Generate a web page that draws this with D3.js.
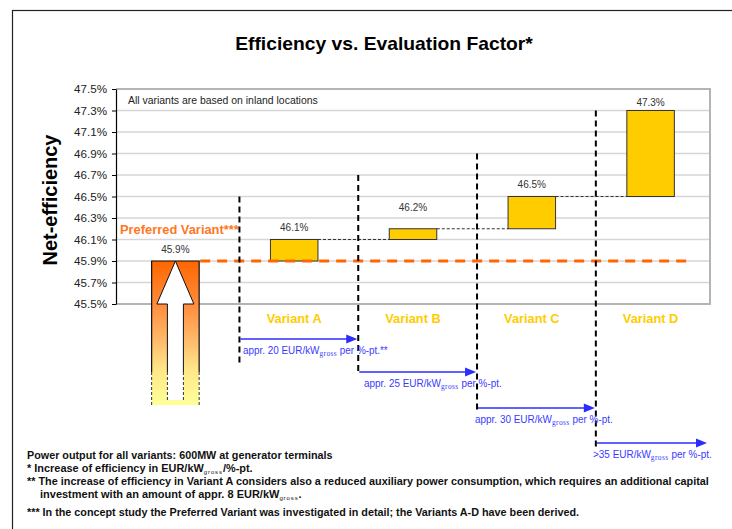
<!DOCTYPE html>
<html><head><meta charset="utf-8">
<script src="https://cdn.jsdelivr.net/npm/d3@7"></script>
<style>body{margin:0;background:#fff}svg{display:block}</style>
</head><body>
<svg id="c" width="732" height="529"></svg>
<script>
// ---------- data ----------
const categories = ["Preferred Variant", "Variant A", "Variant B", "Variant C", "Variant D"];
const startValues = [null, 45.9, 46.1, 46.2, 46.5];
const endValues = [45.9, 46.1, 46.2, 46.5, 47.3];
const valueLabels = ["45.9%", "46.1%", "46.2%", "46.5%", "47.3%"];
const yTicks = [45.5, 45.7, 45.9, 46.1, 46.3, 46.5, 46.7, 46.9, 47.1, 47.3, 47.5];
const baselineValue = 45.9;
const dividerTopValues = [46.5, 46.7, 46.9, 47.3];
const costPrefixes = ["appr. 20", "appr. 25", "appr. 30", ">35"];
const costSuffixes = ["**", "", "", ""];
const footnoteLines = [
  ["Power output for all variants: 600MW at generator terminals"],
  ["*  Increase of efficiency in EUR/kW", "gross", "/%-pt."],
  ["** The increase of efficiency in Variant A considers also a reduced auxiliary power consumption, which requires an additional capital"],
  ["investment with an amount of appr. 8 EUR/kW", "gross", "."],
  ["*** In the concept study the Preferred Variant was investigated in detail; the Variants A-D have been derived."]
];

// ---------- layout ----------
const F = "Arial, 'Liberation Sans', sans-serif";
const plot = {l: 116, r: 710, t: 89, b: 304};
const svg = d3.select("#c");

function fitFont(sel, target) {
  const w = sel.node().getComputedTextLength();
  const fs = +sel.attr("font-size");
  sel.attr("font-size", fs * target / w);
  return fs * target / w;
}
function fitScale(sel, tx, ty, target) {
  const w = sel.node().getComputedTextLength();
  sel.attr("transform", `translate(${tx},${ty}) scale(${target / w},1)`);
}

const x = d3.scaleBand().domain(categories).range([plot.l, plot.r]).paddingInner(0.6).paddingOuter(0.3);
const y = d3.scaleLinear().domain([45.5, 47.5]).range([plot.b, plot.t]);

// outer frame
svg.append("rect").attr("x", 12.5).attr("y", 10.5).attr("width", 760).attr("height", 560)
  .attr("fill", "none").attr("stroke", "#222").attr("stroke-width", 1.2);

// title
const title = svg.append("text").attr("x", 384).attr("y", 50).attr("text-anchor", "middle")
  .attr("font-family", F).attr("font-weight", "bold").attr("font-size", 18).attr("fill", "#000")
  .text("Efficiency vs. Evaluation Factor*");
fitFont(title, 298);

// gridlines
svg.append("g").selectAll("line").data(yTicks).join("line")
  .attr("x1", plot.l).attr("x2", plot.r).attr("y1", d => y(d)).attr("y2", d => y(d))
  .attr("stroke", "#d6d6d6").attr("stroke-width", 1.5);

// plot border (gray)
svg.append("path").attr("d", `M${plot.l},${plot.t}H${plot.r}V${plot.b}H${plot.l}`)
  .attr("fill", "none").attr("stroke", "#b4b4b4").attr("stroke-width", 2);

// y axis
const yAxis = d3.axisLeft(y).tickValues(yTicks).tickSize(4).tickSizeOuter(0)
  .tickFormat(d => d3.format(".1f")(d) + "%");
const ga = svg.append("g").attr("transform", `translate(${plot.l},0)`).call(yAxis);
ga.select(".domain").attr("stroke", "#000").attr("stroke-width", 1.2);
ga.selectAll(".tick line").attr("stroke", "#000");
const tickTexts = ga.selectAll(".tick text").attr("font-family", F).attr("font-size", 11).attr("fill", "#222").attr("x", -9);
const tfs = fitFont(d3.select(tickTexts.nodes()[tickTexts.size() - 1]), 33);
tickTexts.attr("font-size", tfs);

// y axis title
const yt = svg.append("text").attr("transform", "translate(57,200) rotate(-90)").attr("text-anchor", "middle")
  .attr("font-family", F).attr("font-weight", "bold").attr("font-size", 19).attr("fill", "#000")
  .text("Net-efficiency");
fitFont(yt, 131);

// inner note
const note = svg.append("text").attr("x", 128).attr("y", 104).attr("font-family", F).attr("font-size", 10).attr("fill", "#222")
  .text("All variants are based on inland locations");
fitFont(note, 190);

// ---------- preferred variant bar with arrow ----------
const defs = svg.append("defs");
const grad = defs.append("linearGradient").attr("id", "pg").attr("x1", 0).attr("y1", 0).attr("x2", 0).attr("y2", 1);
[[0, "#ff6600"], [0.3, "#ff8c3c"], [0.58, "#ffc070"], [0.76, "#ffe888"], [1, "#ffff99"]]
  .forEach(([o, c]) => grad.append("stop").attr("offset", o).attr("stop-color", c));

const pX0 = x(categories[0]), pX1 = pX0 + x.bandwidth(), pc = pX0 + x.bandwidth() / 2;
const pTop = y(endValues[0]);
const solidEnd = 372, barBottom = 405, shaftBottom = 400;
const headBase = y(45.5), headHalf = 18.5, shaftHalf = 8;
svg.append("rect").attr("x", pX0).attr("y", pTop).attr("width", pX1 - pX0).attr("height", barBottom - pTop)
  .attr("fill", "url(#pg)");
svg.append("path").attr("d", `M${pX0},${solidEnd}V${pTop}H${pX1}V${solidEnd}`)
  .attr("fill", "none").attr("stroke", "#111").attr("stroke-width", 1.2);
svg.append("path").attr("d", `M${pX0},${solidEnd}V${barBottom}M${pX1},${solidEnd}V${barBottom}`)
  .attr("fill", "none").attr("stroke", "#333").attr("stroke-width", 1).attr("stroke-dasharray", "3,2");
svg.append("path")
  .attr("d", `M${pc - shaftHalf},${shaftBottom}V${headBase}H${pc - headHalf}L${pc},${pTop}L${pc + headHalf},${headBase}H${pc + shaftHalf}V${shaftBottom}Z`)
  .attr("fill", "#fff");
svg.append("path")
  .attr("d", `M${pc - shaftHalf},${solidEnd}V${headBase}H${pc - headHalf}L${pc},${pTop}L${pc + headHalf},${headBase}H${pc + shaftHalf}V${solidEnd}`)
  .attr("fill", "none").attr("stroke", "#111").attr("stroke-width", 1);
svg.append("path").attr("d", `M${pc - shaftHalf},${solidEnd}V${shaftBottom}M${pc + shaftHalf},${solidEnd}V${shaftBottom}`)
  .attr("fill", "none").attr("stroke", "#333").attr("stroke-width", 1).attr("stroke-dasharray", "3,2");

// ---------- waterfall bars ----------
const steps = categories.map((c, i) => ({c, s: startValues[i], e: endValues[i], i})).filter(d => d.s !== null);
svg.append("g").selectAll("rect").data(steps).join("rect")
  .attr("x", d => x(d.c)).attr("width", x.bandwidth())
  .attr("y", d => y(d.e)).attr("height", d => y(d.s) - y(d.e))
  .attr("fill", "#ffcc00").attr("stroke", "#333").attr("stroke-width", 1);

// connectors
svg.append("g").selectAll("line").data(steps.slice(0, -1)).join("line")
  .attr("x1", d => x(d.c) + x.bandwidth()).attr("x2", d => x(categories[d.i + 1]))
  .attr("y1", d => y(d.e)).attr("y2", d => y(d.e))
  .attr("stroke", "#333").attr("stroke-width", 1).attr("stroke-dasharray", "3,2");

// orange baseline
svg.append("line").attr("x1", pX1 + 1).attr("x2", x(categories[4]) + x.bandwidth() + 14)
  .attr("y1", y(baselineValue)).attr("y2", y(baselineValue))
  .attr("stroke", "#ff6600").attr("stroke-width", 3).attr("stroke-dasharray", "10,7");

// value labels
const labelLift = [8, 9, 18, 9, 5];
svg.append("g").selectAll("text").data(categories).join("text")
  .attr("x", c => x(c) + x.bandwidth() / 2)
  .attr("y", (c, i) => y(endValues[i]) - labelLift[i])
  .attr("text-anchor", "middle").attr("font-family", F).attr("font-size", 10).attr("fill", "#333")
  .text((c, i) => valueLabels[i]);

// preferred variant label
const pl = svg.append("text").attr("x", 120).attr("y", 234).attr("font-family", F).attr("font-weight", "bold")
  .attr("font-size", 12).attr("fill", "#ff7722").text(categories[0] + "***");
fitFont(pl, 119);

// variant labels under axis
svg.append("g").selectAll("text").data(categories.slice(1)).join("text")
  .attr("x", c => x(c) + x.bandwidth() / 2).attr("y", 323).attr("text-anchor", "middle")
  .attr("font-family", F).attr("font-weight", "bold").attr("font-size", 12.8).attr("fill", "#ffcc00")
  .text(c => c);

// ---------- dividers and cost arrows ----------
const divX = categories.slice(1).map(c => x(c) - 31);
const divBottoms = [365, 374, 410, 448];
svg.append("g").selectAll("line").data(dividerTopValues).join("line")
  .attr("x1", (d, i) => divX[i]).attr("x2", (d, i) => divX[i])
  .attr("y1", d => y(d)).attr("y2", (d, i) => divBottoms[i])
  .attr("stroke", "#000").attr("stroke-width", 2).attr("stroke-dasharray", "6,4");

const arrowRows = [339, 372, 408, 443];
const arrowEnds = [divX[1] - 1, divX[2] - 1, divX[3] - 1, 707];
const textX = [243, 364, 475, 593];
const textW = [145, 138, 138, 119];
const blue = "#2c2cff";
costPrefixes.forEach((p, i) => {
  const x0 = divX[i] + 1, x1 = arrowEnds[i], yy = arrowRows[i];
  svg.append("line").attr("x1", x0).attr("x2", x1 - 9).attr("y1", yy).attr("y2", yy)
    .attr("stroke", blue).attr("stroke-width", 1.6);
  svg.append("path").attr("d", `M${x1},${yy}L${x1 - 11},${yy - 4.5}L${x1 - 11},${yy + 4.5}Z`).attr("fill", blue);
  const t = svg.append("text").attr("font-family", F).attr("font-size", 10).attr("fill", "#3a3aff");
  t.append("tspan").text(p + " EUR/kW");
  t.append("tspan").attr("dy", 2).attr("font-size", 7.5).attr("font-family", "'Liberation Serif', serif")
    .attr("letter-spacing", 0.4).text("gross");
  t.append("tspan").attr("dy", -2).text(" per %-pt." + costSuffixes[i]);
  fitScale(t, textX[i], yy + 15, textW[i]);
});

// ---------- footnotes ----------
const fnX = [27, 27, 27, 40, 27];
const fnY = [459, 472, 485, 498, 516];
const fnW = [306, 226, 683, 262, 553];
footnoteLines.forEach((segs, i) => {
  const t = svg.append("text").attr("font-family", F).attr("font-weight", "bold").attr("font-size", 10).attr("fill", "#111");
  segs.forEach((s, k) => {
    if (k % 2 === 1) {
      t.append("tspan").attr("dy", 1.5).attr("font-size", 5.5).attr("letter-spacing", 0.8).attr("font-weight", "normal").text(s);
    } else {
      t.append("tspan").attr("dy", k > 0 ? -1.5 : 0).text(s);
    }
  });
  fitScale(t, fnX[i], fnY[i], fnW[i]);
});
</script>
</body></html>
